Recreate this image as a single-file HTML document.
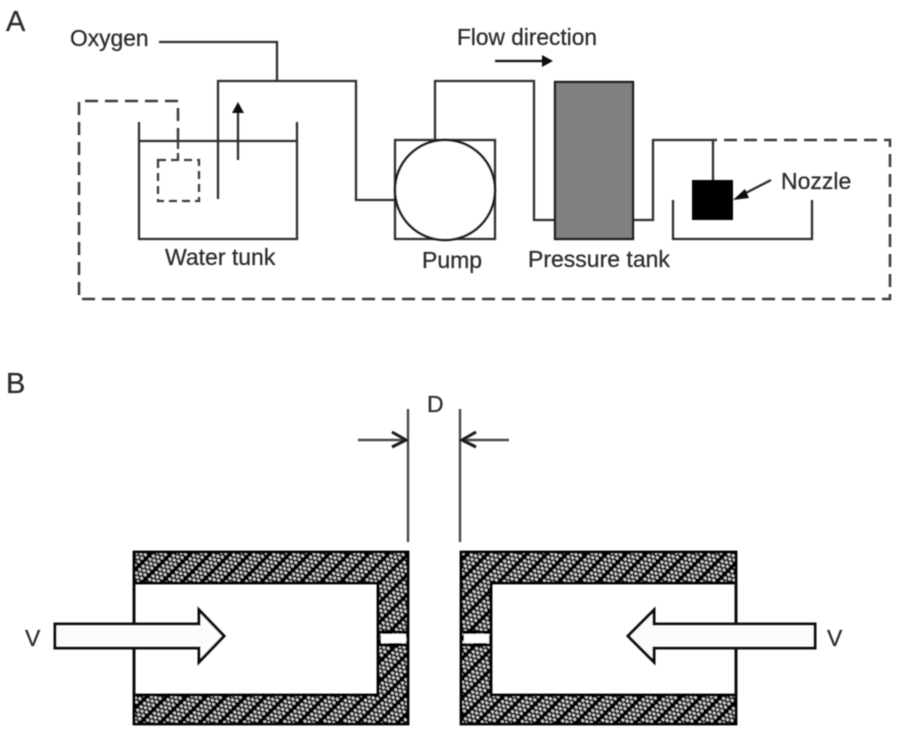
<!DOCTYPE html>
<html>
<head>
<meta charset="utf-8">
<style>
html,body{margin:0;padding:0;background:#fff;width:898px;height:734px;overflow:hidden}
svg{display:block}
text{font-family:"Liberation Sans",sans-serif;fill:#2c2c2c;stroke:#2c2c2c;stroke-width:.25}
</style>
</head>
<body>
<svg width="898" height="734" viewBox="0 0 898 734" xmlns="http://www.w3.org/2000/svg">
<defs>
<filter id="b" x="-2%" y="-2%" width="104%" height="104%"><feGaussianBlur stdDeviation="0.55"/></filter>
<pattern id="h" width="4.8" height="14" patternUnits="userSpaceOnUse" patternTransform="translate(134 552) rotate(-45)">
<rect width="4.8" height="14" fill="#060606"/>
<circle cx="1.2" cy="2.5" r="1.55" fill="#d0d0d0"/>
<circle cx="3.6" cy="6.2" r="1.55" fill="#d0d0d0"/>
<circle cx="1.2" cy="9.9" r="1.55" fill="#d0d0d0"/>
</pattern>
</defs>
<g filter="url(#b)">
<!-- Panel A -->
<g fill="none" stroke="#2e2e2e" stroke-width="2.3">
<path d="M159 42H277V81"/>
<path d="M218 199V81H356V200H395"/>
<path d="M139 122V239H297V122"/>
<path d="M139 141H297"/>
<path d="M238 160V108"/>
<rect x="395" y="140" width="100" height="99"/>
<circle cx="445" cy="190" r="50" fill="#fff" stroke="#1c1c1c" stroke-width="2.5"/>
<path d="M435 140V81H534V220H554"/>
<path d="M634 220H653V140H713V180"/>
<path d="M673 200V239H812V200"/>
<path d="M771 180L740 196"/>
<path d="M495 61H545" stroke="#111"/>
</g>
<g fill="none" stroke="#3a3a3a" stroke-width="2.5" stroke-dasharray="13 7">
<path d="M178 141V101H79V299H890V140H713"/>
</g>
<path d="M178 141V160" fill="none" stroke="#3a3a3a" stroke-width="2.3" stroke-dasharray="8 4"/>
<rect x="158" y="160" width="41" height="41" fill="none" stroke="#3a3a3a" stroke-width="2.3" stroke-dasharray="8 5"/>
<path d="M238 102L232 113H244Z" fill="#111"/>
<path d="M553 61L542 55V67Z" fill="#111"/>
<path d="M733 200L745 189L749 198Z" fill="#111"/>
<rect x="555" y="82" width="78" height="157" fill="#808080" stroke="#1c1c1c" stroke-width="2.3"/>
<rect x="692" y="180" width="41" height="40" fill="#000"/>
<text x="457" y="45" font-size="22.7">Flow direction</text>
<text x="70" y="46" font-size="22.8">Oxygen</text>
<text x="165" y="265" font-size="23">Water tunk</text>
<text x="422" y="268" font-size="23">Pump</text>
<text x="528" y="267" font-size="23">Pressure tank</text>
<text x="781" y="189" font-size="23">Nozzle</text>
<text x="6" y="31" font-size="29">A</text>
<text x="6" y="393" font-size="29">B</text>
<!-- Panel B -->
<g fill="none" stroke="#4a4a4a" stroke-width="2.4">
<path d="M408 409V542M460 409V542"/>
<path d="M358 440H405M509 440H463"/>
</g>
<g fill="none" stroke="#1a1a1a" stroke-width="3">
<path d="M392 432L406 440L392 447"/>
<path d="M476 432L462 440L476 447"/>
</g>
<text x="427" y="412" font-size="23">D</text>
<text x="25" y="646" font-size="23">V</text>
<text x="827" y="646" font-size="23">V</text>
<!-- Left chamber -->
<path fill-rule="evenodd" d="M134 552H408V724H134V695H378V583H134Z" fill="url(#h)" stroke="#000" stroke-width="2.8"/>
<path d="M134 583V695" stroke="#111" stroke-width="3"/>
<rect x="381" y="634" width="25" height="9" fill="#fff"/>
<path d="M379 632H407M379 645H407" stroke="#000" stroke-width="3"/>
<!-- Right chamber -->
<path fill-rule="evenodd" d="M461 552H736V724H461ZM491 583V695H736V583Z" fill="url(#h)" stroke="#000" stroke-width="2.8"/>
<path d="M736 583V695" stroke="#111" stroke-width="3"/>
<rect x="464" y="634" width="25" height="9" fill="#fff"/>
<path d="M462 632H490M462 645H490" stroke="#000" stroke-width="3"/>
<!-- Block arrows -->
<path d="M55 624H199V610L224 636L199 662V648H55Z" fill="#fcfcfc" stroke="#111" stroke-width="3"/>
<path d="M815 624H654V610L628 636L654 662V648H815Z" fill="#fcfcfc" stroke="#111" stroke-width="3"/>
</g>
</svg>
</body>
</html>
